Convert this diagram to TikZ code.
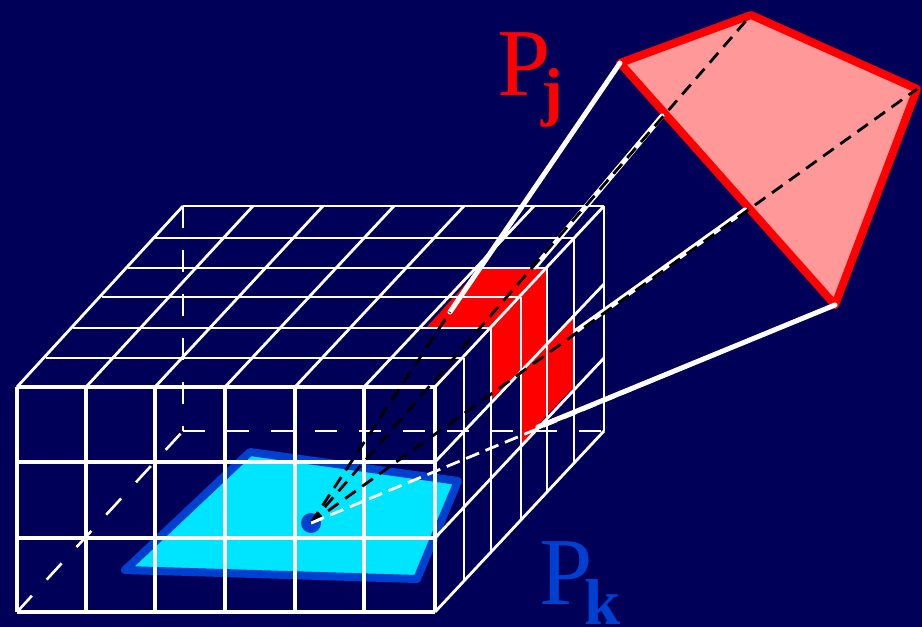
\documentclass[tikz,border=0pt]{standalone}
\usepackage{fontspec}
\usetikzlibrary{calc}
\setmainfont{Liberation Serif}
\definecolor{bgnavy}{RGB}{0,0,88}
\definecolor{patchblue}{RGB}{0,64,208}
\definecolor{patchcyan}{RGB}{0,229,255}
\definecolor{patchpink}{RGB}{255,153,153}
\tikzset{
  grid/.style={white,line width=2.8pt},
  hidden/.style={white,line width=2.6pt,dash pattern=on 22pt off 22pt},
  ray/.style={white,line width=5pt,line cap=round},
  bdash/.style={black,line width=2.8pt,dash pattern=on 13pt off 8pt},
  wdash/.style={white,line width=2.8pt,dash pattern=on 14pt off 7pt},
  bigtext/.style={inner sep=0pt,anchor=base west,font=\fontsize{96}{96}\selectfont},
  subtext/.style={inner sep=0pt,anchor=base west,font=\fontsize{65}{65}\selectfont\bfseries}
}
\begin{document}
\begin{tikzpicture}[x=1pt,y=-1pt]
\useasboundingbox (0,0) rectangle (922,627);
\clip (0,0) rectangle (922,627);
\fill[bgnavy] (0,0) rectangle (922,627);
% named points
\coordinate (O) at (311,523);
\coordinate (A) at (620,63);
\coordinate (B) at (751,15);
\coordinate (C) at (917,89);
\coordinate (D) at (835,305);
\coordinate (A1) at (450,312);
\coordinate (E) at (662,116);
\coordinate (E1) at (535,267);
\coordinate (F) at (745,210);
\coordinate (F1) at (576,331);
\coordinate (G1) at (538,427);
% cyan patch
\draw[patchblue,fill=patchcyan,line width=8pt,line join=round] (250,452)--(458,481)--(417,579)--(125,570)--cycle;
% red cell
\fill[red] (426,328)--(491,328)--(547,268)--(480,268)--cycle;
\fill[red] (491,328)--(521,297)--(521,370)--(491,400)--cycle;
\fill[red] (521,297)--(547,268)--(547,415)--(521,445)--cycle;
\fill[red] (547,344)--(574,316)--(574,387)--(547,415)--cycle;
% hidden edges
\draw[hidden] (183,206)--(183,431);
\draw[hidden] (17,612)--(183,431);
\draw[hidden] (183,431)--(604,431);
% front face
\foreach \x in {17,86,155,225,295,364,435} \draw[grid,line width=3.2pt] (\x,387)--(\x,612);
\foreach \y in {387,462,538,612} \draw[grid,line width=3.2pt] (17,\y)--(435,\y);
% top face
\foreach \y/\a/\b in {206/183/604,238/155/574,268/128/547,297/102/521,328/73/491,358/46/464}
  \draw[grid] (\a,\y)--(\b,\y);
\foreach \a/\b in {17/183,86/253,155/323,225/394,295/464,364/534,435/604}
  \draw[grid] (\a,387)--(\b,206);
% right face
\foreach \x/\t/\e in {464/358/581,491/328/552,521/297/520,547/268/492,574/238/463,604/206/431}
  \draw[grid] (\x,\t)--(\x,\e);
\draw[grid] (435,462)--(604,284);
\draw[grid] (435,538)--(604,358);
\draw[grid] (435,612)--(604,431);
% far polygon
\draw[red,fill=patchpink,line width=8pt,line join=round] (A)--(B)--(C)--(D)--cycle;
% solid rays
\draw[ray] (A)--(A1);
\draw[ray] (E)--(E1);
\draw[ray] (F)--(F1);
\draw[ray] (D)--(G1);
\fill[patchblue] (O) circle (10);
% dashed lines of sight
\draw[bdash] (O)--(A1);
\draw[bdash] (O)--(B);
\draw[bdash] (O)--(C);
\draw[wdash] (O)--(D);
\draw[black,line width=2.8pt] (O)--($(O)!12pt!(A)$);
\draw[black,line width=2.8pt] (O)--($(O)!12pt!(B)$);
\draw[white,line width=2.8pt] (O)--($(O)!12pt!(D)$);
% labels
\node[bigtext,text=red] (pj) at (497,95) {P};
\node[subtext,text=red] (j) at (541,113) {j};
\node[bigtext,text=patchblue] (pk) at (539,604) {P};
\node[subtext,text=patchblue] (k) at (584,624) {k};
\end{tikzpicture}
\end{document}
